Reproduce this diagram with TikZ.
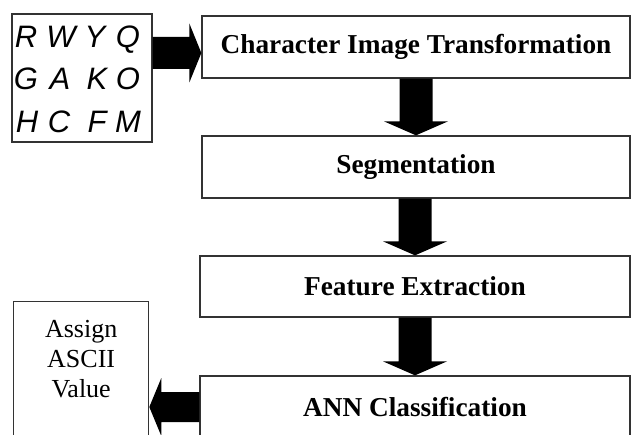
\documentclass[tikz,border=0pt]{standalone}
\usepackage{fontspec}
\setmainfont{Liberation Serif}
\newfontfamily\hwfont{Liberation Sans}
\usetikzlibrary{calc}
\tikzset{
  box/.style={draw=black!80, line width=1.3pt, fill=white, inner sep=0pt},
  stage/.style={box, minimum width=428pt, minimum height=62pt, font=\fontsize{27.3}{30}\selectfont\bfseries},
  blockarrow/.style={fill=black},
  hw/.style={font=\hwfont\itshape\fontsize{31}{31}\selectfont, inner sep=0pt, anchor=base},
}
\newcommand\downblock[2]{%
  \fill[blockarrow] let \p1=(#1.south), \p2=(#2.north) in
  (\x2-16.5pt,\y1) -- (\x2-16.5pt,\y2+14pt) -- (\x2-32pt,\y2+14pt) -- (\x2,\y2)
  -- (\x2+32pt,\y2+14pt) -- (\x2+16.5pt,\y2+14pt) -- (\x2+16.5pt,\y1) -- cycle;}
\begin{document}
\begin{tikzpicture}[x=1pt,y=-1pt]
\useasboundingbox (0,0) rectangle (631,435);
\clip (0,0) rectangle (631,435);
% handwritten sample image
\node[box, minimum width=140pt, minimum height=128pt] (img) at (82,78) {};
\node[hw] (l11) at (26,48) {R};
\node[hw] (l12) at (61,48) {W};
\node[hw] (l13) at (95,48) {Y};
\node[hw] (l14) at (128,48) {Q};
\node[hw] (l21) at (26,90) {G};
\node[hw] (l22) at (60,90) {A};
\node[hw] (l23) at (97,90) {K};
\node[hw] (l24) at (128,90) {O};
\node[hw] (l31) at (27,133) {H};
\node[hw] (l32) at (59,133) {C};
\node[hw] (l33) at (97,133) {F};
\node[hw] (l34) at (128,133) {M};
% stages
\node[stage] (cit) at (416,47) {Character Image Transformation};
\node[stage] (seg) at (416,167) {Segmentation};
\node[stage, minimum width=430pt, minimum height=61pt] (fe) at (415,286.5) {Feature Extraction};
\node[stage, minimum width=430pt] (ann) at (415,407) {ANN Classification};
% output box
\node[box, minimum width=135pt, minimum height=160pt, anchor=north west] (asg) at (13,301) {};
\node[font=\fontsize{26}{30}\selectfont, align=center, anchor=north, inner sep=0pt] (asgtext)
  at ($(asg.north)+(0,19)$) {Assign\\ASCII\\Value};
% block arrows
\fill[blockarrow] let \p1=(img.east), \p2=(cit.west) in
  (\x1,\y2-6pt+16pt) -- (\x2-12pt,\y2-6pt+16pt) -- (\x2-12pt,\y2-6pt+29.5pt) -- (\x2,\y2-6pt)
  -- (\x2-12pt,\y2-6pt-29.5pt) -- (\x2-12pt,\y2-6pt-16pt) -- (\x1,\y2-6pt-16pt) -- cycle;
\downblock{cit}{seg}
\downblock{seg}{fe}
\downblock{fe}{ann}
\fill[blockarrow] let \p1=(ann.west), \p2=(asg.east) in
  (\x1,\y1+15pt) -- (\x2+12pt,\y1+15pt) -- (\x2+12pt,\y1+29pt) -- (\x2,\y1)
  -- (\x2+12pt,\y1-29pt) -- (\x2+12pt,\y1-15pt) -- (\x1,\y1-15pt) -- cycle;
\end{tikzpicture}
\end{document}
